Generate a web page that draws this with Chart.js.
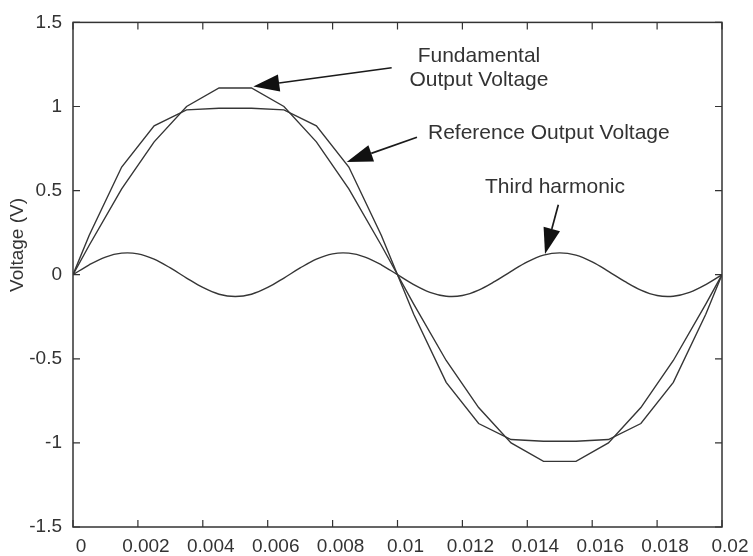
<!DOCTYPE html>
<html>
<head>
<meta charset="utf-8">
<script src="https://cdn.jsdelivr.net/npm/chart.js@4"></script>
<style>
  html, body { margin: 0; padding: 0; background: #ffffff; }
  #wrap { width: 753px; height: 556px; }
</style>
</head>
<body>
<div id="wrap"><canvas id="c"></canvas></div>
<script>
// Sample instants (s) of the fundamental and reference waveforms over one 50 Hz cycle
const time = [0, 0.0005, 0.0015, 0.0025, 0.0035, 0.0045, 0.0055, 0.0065, 0.0075, 0.0085, 0.0095,
              0.0105, 0.0115, 0.0125, 0.0135, 0.0145, 0.0155, 0.0165, 0.0175, 0.0185, 0.0195, 0.02];

// Fundamental output voltage (V)
const fundamental = [0, 0.175, 0.51, 0.79, 1.0, 1.11, 1.11, 1.0, 0.79, 0.51, 0.175,
                     -0.175, -0.51, -0.79, -1.0, -1.11, -1.11, -1.0, -0.79, -0.51, -0.175, 0];

// Reference (flat-topped) output voltage (V)
const referenceOutput = [0, 0.235, 0.64, 0.885, 0.98, 0.99, 0.99, 0.98, 0.885, 0.64, 0.235,
                         -0.235, -0.64, -0.885, -0.98, -0.99, -0.99, -0.98, -0.885, -0.64, -0.235, 0];

// Sample instants (s) of the third harmonic
const timeHarmonic = [0, 0.0005, 0.001, 0.0015, 0.002, 0.0025, 0.003, 0.0035, 0.004, 0.0045,
                      0.005, 0.0055, 0.006, 0.0065, 0.007, 0.0075, 0.008, 0.0085, 0.009, 0.0095,
                      0.01, 0.0105, 0.011, 0.0115, 0.012, 0.0125, 0.013, 0.0135, 0.014, 0.0145,
                      0.015, 0.0155, 0.016, 0.0165, 0.017, 0.0175, 0.018, 0.0185, 0.019, 0.0195, 0.02];

// Injected third harmonic (V)
const thirdHarmonic = [0, 0.059, 0.105, 0.128, 0.124, 0.092, 0.04, -0.02, -0.076, -0.116,
                       -0.13, -0.116, -0.076, -0.02, 0.04, 0.092, 0.124, 0.128, 0.105, 0.059,
                       0, -0.059, -0.105, -0.128, -0.124, -0.092, -0.04, 0.02, 0.076, 0.116,
                       0.13, 0.116, 0.076, 0.02, -0.04, -0.092, -0.124, -0.128, -0.105, -0.059, 0];

// Axis ticks
const xTickValues = [0, 0.002, 0.004, 0.006, 0.008, 0.01, 0.012, 0.014, 0.016, 0.018, 0.02];
const xTickLabels = ['0', '0.002', '0.004', '0.006', '0.008', '0.01', '0.012', '0.014', '0.016', '0.018', '0.02'];
const yTickValues = [-1.5, -1, -0.5, 0, 0.5, 1, 1.5];
const yTickLabels = ['-1.5', '-1', '-0.5', '0', '0.5', '1', '1.5'];
const yAxisTitle = 'Voltage (V)';

// Callout texts and arrows, anchored in data units
const notes = [
  { lines: ['Fundamental', 'Output Voltage'], x: 0.01251, y: [1.266, 1.119], align: 'center',
    arrow: { from: [0.00982, 1.2305], to: [0.005556, 1.119] } },
  { lines: ['Reference Output Voltage'], x: 0.01094, y: [0.8086], align: 'left',
    arrow: { from: [0.0106, 0.8174], to: [0.008435, 0.6697] } },
  { lines: ['Third harmonic'], x: 0.014854, y: [0.4863], align: 'center',
    arrow: { from: [0.014956, 0.416], to: [0.014546, 0.123] } }
];

const INK = '#333333';
const LINE = '#363636';
const FONT = '"Liberation Sans", Arial, Helvetica, sans-serif';

function toPoints(ts, ys) { return ts.map((t, i) => ({ x: t, y: ys[i] })); }

function drawArrow(ctx, x0, y0, x1, y1, len, half) {
  const dx = x1 - x0, dy = y1 - y0;
  const d = Math.hypot(dx, dy);
  const ux = dx / d, uy = dy / d;
  const bx = x1 - ux * len, by = y1 - uy * len;
  ctx.beginPath();
  ctx.moveTo(x0, y0);
  ctx.lineTo(bx, by);
  ctx.stroke();
  ctx.beginPath();
  ctx.moveTo(x1, y1);
  ctx.lineTo(bx - uy * half, by + ux * half);
  ctx.lineTo(bx + uy * half, by - ux * half);
  ctx.closePath();
  ctx.fill();
}

const framePlugin = {
  id: 'frameAndNotes',
  afterDraw(chart) {
    const { ctx, chartArea: a, scales } = chart;
    const xs = scales.x, ys = scales.y;
    ctx.save();
    ctx.strokeStyle = INK;
    ctx.lineWidth = 1.5;
    ctx.strokeRect(a.left, a.top, a.right - a.left, a.bottom - a.top);

    // inward tick marks on all four sides
    const tl = 7;
    ctx.lineWidth = 1.2;
    ctx.beginPath();
    xTickValues.forEach(v => {
      const px = xs.getPixelForValue(v);
      ctx.moveTo(px, a.bottom); ctx.lineTo(px, a.bottom - tl);
      ctx.moveTo(px, a.top); ctx.lineTo(px, a.top + tl);
    });
    yTickValues.forEach(v => {
      const py = ys.getPixelForValue(v);
      ctx.moveTo(a.left, py); ctx.lineTo(a.left + tl, py);
      ctx.moveTo(a.right, py); ctx.lineTo(a.right - tl, py);
    });
    ctx.stroke();

    // callouts
    ctx.font = '21px ' + FONT;
    ctx.textBaseline = 'alphabetic';
    notes.forEach(n => {
      ctx.fillStyle = INK;
      ctx.textAlign = n.align;
      const tx = xs.getPixelForValue(n.x);
      n.lines.forEach((s, i) => ctx.fillText(s, tx, ys.getPixelForValue(n.y[i])));
      ctx.fillStyle = '#111111';
      ctx.strokeStyle = '#1a1a1a';
      ctx.lineWidth = 1.7;
      drawArrow(ctx,
        xs.getPixelForValue(n.arrow.from[0]), ys.getPixelForValue(n.arrow.from[1]),
        xs.getPixelForValue(n.arrow.to[0]), ys.getPixelForValue(n.arrow.to[1]), 26, 8.5);
    });

    // y-axis title
    ctx.save();
    ctx.translate(18, 245);
    ctx.rotate(-Math.PI / 2);
    ctx.textAlign = 'center';
    ctx.textBaseline = 'middle';
    ctx.font = '19px ' + FONT;
    ctx.fillStyle = INK;
    ctx.fillText(yAxisTitle, 0, 0);
    ctx.restore();

    ctx.restore();
  }
};

const lineStyle = { borderColor: LINE, borderWidth: 1.4, pointRadius: 0, tension: 0, fill: false };

new Chart(document.getElementById('c'), {
  type: 'line',
  data: {
    datasets: [
      Object.assign({ label: 'Fundamental Output Voltage', data: toPoints(time, fundamental) }, lineStyle),
      Object.assign({ label: 'Reference Output Voltage', data: toPoints(time, referenceOutput) }, lineStyle),
      Object.assign({ label: 'Third harmonic', data: toPoints(timeHarmonic, thirdHarmonic) }, lineStyle,
                    { tension: 0.35 })
    ]
  },
  options: {
    responsive: true,
    maintainAspectRatio: false,
    animation: false,
    devicePixelRatio: 1,
    layout: { padding: { top: 15, right: 31, left: 0, bottom: 0 } },
    plugins: { legend: { display: false }, tooltip: { enabled: false } },
    scales: {
      x: {
        type: 'linear',
        min: 0,
        max: 0.02,
        afterBuildTicks: s => { s.ticks = xTickValues.map(v => ({ value: v })); },
        afterFit: s => { s.height = 29; },
        ticks: {
          callback: (v, i) => xTickLabels[i],
          autoSkip: false,
          maxRotation: 0,
          padding: 8,
          labelOffset: 8,
          color: INK,
          font: { family: FONT, size: 19 }
        },
        grid: { display: false, drawTicks: false },
        border: { display: false }
      },
      y: {
        type: 'linear',
        min: -1.5,
        max: 1.5,
        afterBuildTicks: s => { s.ticks = yTickValues.map(v => ({ value: v })); },
        afterFit: s => { s.width = 73; },
        ticks: {
          callback: (v, i) => yTickLabels[i],
          autoSkip: false,
          padding: 11,
          color: INK,
          font: { family: FONT, size: 19 }
        },
        grid: { display: false, drawTicks: false },
        border: { display: false }
      }
    }
  },
  plugins: [framePlugin]
});
</script>
</body>
</html>
